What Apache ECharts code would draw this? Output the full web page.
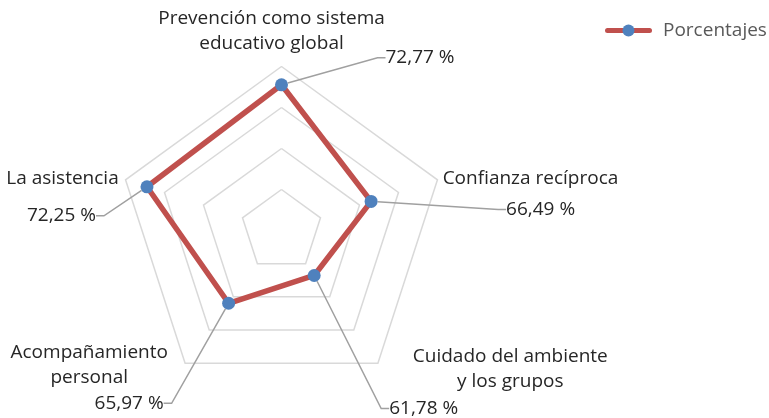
<!DOCTYPE html>
<html>
<head>
<meta charset="utf-8">
<script src="https://cdn.jsdelivr.net/npm/echarts@6/dist/echarts.min.js"></script>
<style>
  html, body { margin: 0; padding: 0; background: #fff; }
  #chart { width: 769px; height: 418px; }
</style>
</head>
<body>
<div id="chart"></div>
<script>
// Dimensions, listed in the order they are laid out around the radar
const categories = [
  'Prevención como sistema\neducativo global',
  'La asistencia',
  'Acompañamiento\npersonal',
  'Cuidado del ambiente\ny los grupos',
  'Confianza recíproca'
];
const values = [72.77, 72.25, 65.97, 61.78, 66.49];
const seriesName = 'Porcentajes';
const axisMin = 55;
const axisMax = 75;

// Offsets of each value label from its point: [dx, dy, align]
const labelPlacement = [
  [104, -27, 'left'],
  [-51, 29, 'right'],
  [-65, 100, 'right'],
  [75, 133, 'left'],
  [135, 8, 'left']
];

// Per-dimension name block: centring box width, right padding, and
// vertical nudge (positive = down) for the axis-name text
const nameBox = [
  { width: null, padRight: 20, nudge: 0 },
  { width: 107, padRight: 0, nudge: 2 },
  { width: 180, padRight: 0, nudge: -6 },
  { width: 253, padRight: 0, nudge: -2 },
  { width: 167, padRight: 0, nudge: 2 }
];

const FONT = '"Open Sans", sans-serif';
const TEXT_COLOR = '#262626';
const fmt = v => v.toFixed(2).replace('.', ',') + ' %';
const labelTexts = values.map(fmt);

// Rich styles for the axis names
const rich = {};
nameBox.forEach((b, i) => {
  const s = {
    fontFamily: FONT, fontSize: 19, color: TEXT_COLOR, lineHeight: 25, align: 'center'
  };
  if (b.width) s.width = b.width;
  if (b.padRight) s.padding = [0, b.padRight, 0, 0];
  rich['n' + i] = s;
  if (b.nudge) {
    rich['sp' + i] = { fontSize: 1, lineHeight: Math.abs(b.nudge) * 2 };
  }
});

function axisNameText(name) {
  const i = categories.indexOf(name);
  const lines = name.split('\n').map(l => '{n' + i + '|' + l + '}');
  const b = nameBox[i];
  if (b.nudge > 0) lines.unshift('{sp' + i + '| }');
  if (b.nudge < 0) lines.push('{sp' + i + '| }');
  return lines.join('\n');
}

// Legend marker: red line with a blue dot
const legendIcon = 'image://data:image/svg+xml;utf8,' + encodeURIComponent(
  '<svg xmlns="http://www.w3.org/2000/svg" width="47" height="14" viewBox="0 0 47 14">' +
  '<rect x="0" y="4.5" width="47" height="5" rx="2.5" fill="#C0504D"/>' +
  '<circle cx="23.5" cy="7" r="6" fill="#4F81BD"/></svg>'
);

const chart = echarts.init(document.getElementById('chart'), null, { renderer: 'canvas' });
chart.setOption({
  animation: false,
  backgroundColor: '#ffffff',
  legend: {
    data: [{ name: seriesName, icon: legendIcon }],
    left: 605,
    top: 21,
    padding: 0,
    itemWidth: 47,
    itemHeight: 14,
    textStyle: { fontFamily: FONT, fontSize: 19, color: '#595959', padding: [0, 0, 0, 6] }
  },
  radar: {
    center: [281.5, 230.5],
    radius: 164,
    shape: 'polygon',
    splitNumber: 4,
    startAngle: 90,
    indicator: categories.map(name => ({ name, min: axisMin, max: axisMax })),
    axisName: {
      color: TEXT_COLOR,
      fontFamily: FONT,
      fontSize: 19,
      lineHeight: 25,
      formatter: axisNameText,
      rich: rich
    },
    nameGap: 10,
    axisLine: { show: false },
    axisTick: { show: false },
    axisLabel: { show: false },
    splitArea: { show: false },
    splitLine: { lineStyle: { color: '#d9d9d9', width: 1.5 } }
  },
  series: [{
    type: 'radar',
    name: seriesName,
    symbol: 'circle',
    symbolSize: 13,
    lineStyle: { color: '#C0504D', width: 5.5 },
    itemStyle: { color: '#4F81BD' },
    label: {
      show: true,
      formatter: p => fmt(p.value),
      fontFamily: FONT,
      fontSize: 19,
      color: TEXT_COLOR
    },
    labelLine: {
      show: true,
      length2: 8,
      lineStyle: { color: '#a0a0a0', width: 1.5 }
    },
    labelLayout: function (params) {
      const i = labelTexts.indexOf(params.text);
      const p = labelPlacement[i < 0 ? 0 : i];
      const cx = params.rect.x + params.rect.width / 2;
      const cy = params.rect.y + params.rect.height / 2;
      return { x: cx + p[0], y: cy + p[1], align: p[2], verticalAlign: 'middle' };
    },
    data: [{ name: seriesName, value: values }]
  }]
});
</script>
</body>
</html>
